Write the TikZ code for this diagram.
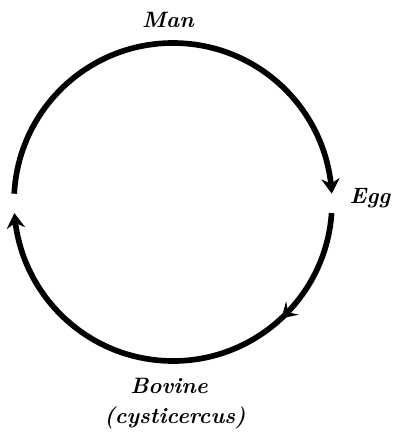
\documentclass[tikz,border=0pt]{standalone}
\usepackage{fontspec}
\usepackage{tikz}
\usetikzlibrary{arrows.meta,bending}
\usetikzlibrary{decorations.markings}

\tikzset{
    cycle line/.style={line width=0.17cm},
    cycle tip/.style={-{Stealth[length=0.45cm,width=0.55cm,inset=0.15cm]}},
    host/.style={font=\fontsize{19}{22}\selectfont\itshape\bfseries\addfontfeatures{LetterSpace=30}},
    mid tip/.style={postaction={decorate},
        decoration={markings,mark=at position 0.25 with {\arrow{Stealth[length=0.45cm,width=0.55cm,inset=0.18cm]}}}}
}

\begin{document}
\begin{tikzpicture}[x=0.03cm,y=0.03cm]
        \useasboundingbox (0,0) rectangle (393,435);
        \coordinate (c) at (173,233);
        % upper half: man to egg
        \draw[cycle line,cycle tip] (c) ++(177:159) arc[start angle=177,end angle=3,radius=159];
        % lower half: egg to bovine and back
        \draw[cycle line,cycle tip,mid tip] (c) ++(-4:159) arc[start angle=-4,end angle=-176,radius=159];
        \node[host] (man) at (168,415) {Man};
        \node[host] (egg) at (370,237) {Egg};
        \node[host] (bovine) at (169,49) {Bovine};
        \node[host] (cyst) at (175,17) {(cysticercus)};
    \end{tikzpicture}
\end{document}
